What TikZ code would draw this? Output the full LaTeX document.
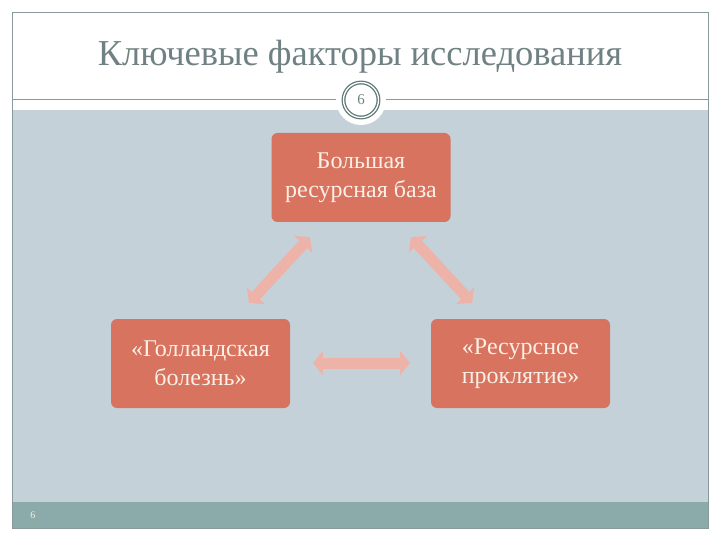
\documentclass[tikz,border=0pt]{standalone}
\usepackage{fontspec}
\setmainfont{Liberation Serif}
\usetikzlibrary{arrows.meta}
\definecolor{bggray}{HTML}{C5D1D8}
\definecolor{footc}{HTML}{8BABAB}
\definecolor{framec}{HTML}{8A9A9A}
\definecolor{titlec}{HTML}{6F8182}
\definecolor{ringc}{HTML}{5F7A78}
\definecolor{boxc}{HTML}{D8735F}
\definecolor{boxtext}{HTML}{FBF0E6}
\definecolor{arrc}{HTML}{EDB2A8}
\tikzset{
  factor/.style={fill=boxc, rounded corners=6pt, minimum width=179pt, minimum height=89pt, text=boxtext, align=center, font=\fontsize{24}{29}\selectfont, inner sep=0pt},
  link/.style={draw=arrc, line width=11pt, {Triangle[width=24pt,length=10pt]}-{Triangle[width=24pt,length=10pt]}}
}
\begin{document}
\begin{tikzpicture}[x=1pt,y=-1pt]
\useasboundingbox (0,0) rectangle (720,540);
\fill[white] (0,0) rectangle (720,540);
% gray body
\fill[bggray] (12,110) rectangle (708,502);
\fill[footc] (12,502) rectangle (708,528);
\draw[framec, line width=0.8pt] (12,528) -- (12,12) -- (708,12) -- (708,528) -- cycle;
\draw[framec, line width=1pt] (12,100) -- (708,100);
% title
\node[text=titlec, font=\fontsize{36.5}{40}\selectfont] (title) at (360,57) {Ключевые факторы исследования};
% page circle
\node[circle, fill=white, minimum size=50pt, inner sep=0pt] (pc) at (361,100) {};
\node[circle, draw=ringc, line width=1.3pt, double=white, double distance=1.3pt, minimum size=35pt, inner sep=0pt, font=\fontsize{15}{17}\selectfont, text=titlec] (pnum) at (361,100) {6};
% boxes
\node[factor] (top) at (361,177.5) {Большая\\ресурсная база};
\node[factor] (left) at (200.5,363.5) {«Голландская\\болезнь»};
\node[factor] (right) at (520.5,363.5) {«Ресурсное\\проклятие»};
% arrows
\coordinate (a1) at (310,237);
\coordinate (a2) at (249,303);
\coordinate (b1) at (411,237);
\coordinate (b2) at (472,303);
\coordinate (c1) at (313,363);
\coordinate (c2) at (410,363);
\draw[link] (a1) -- (a2);
\draw[link] (b1) -- (b2);
\draw[link] (c1) -- (c2);
% footer number
\node[text=boxtext, font=\fontsize{10}{12}\selectfont] (fnum) at (33,515) {6};
\end{tikzpicture}
\end{document}
